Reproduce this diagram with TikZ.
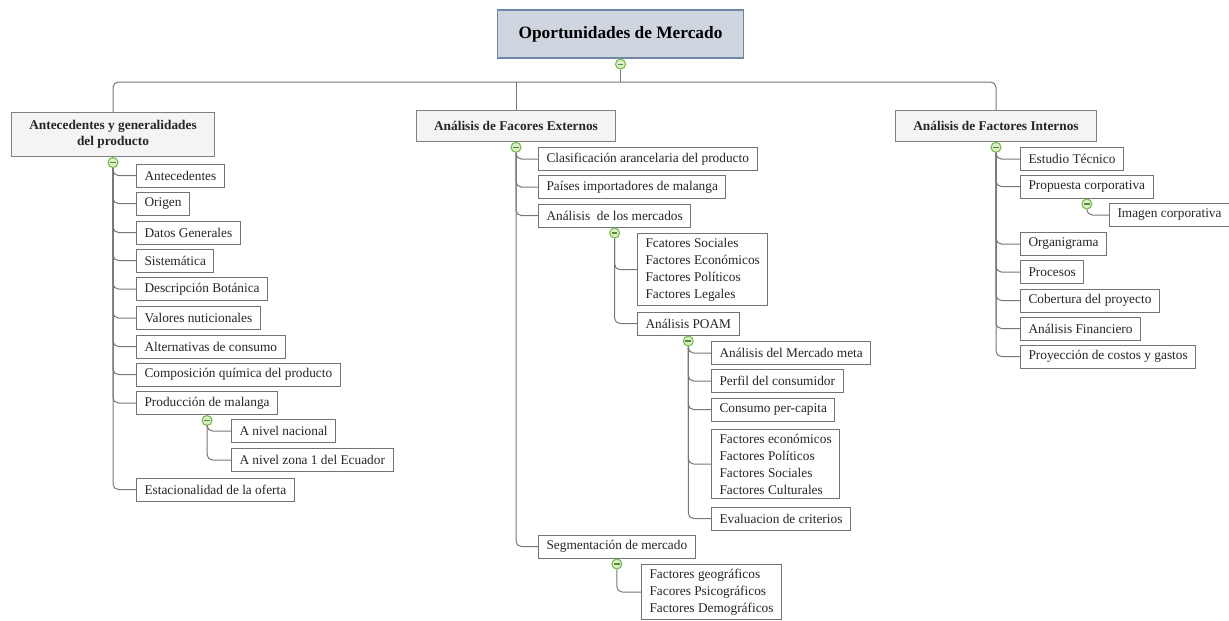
\documentclass[tikz,border=0pt]{standalone}
\usepackage{fontspec}
\setmainfont{Liberation Serif}
\usepackage{tikz}
\usepackage{xcolor}
\usetikzlibrary{positioning}
\definecolor{knobgreen}{RGB}{118,186,78}
\definecolor{knobfill}{RGB}{218,238,200}
\definecolor{linegray}{RGB}{118,118,118}
\definecolor{rootfill}{RGB}{207,213,223}
\definecolor{rootline}{RGB}{112,134,168}
\definecolor{topfill}{RGB}{244,244,244}
\tikzstyle{rootbox} = [rectangle, draw=rootline, fill=rootfill, line width=0.9pt, minimum width=185pt,
minimum height=36pt, font=\bfseries\fontsize{13}{15}\selectfont]
\tikzstyle{topbox} = [rectangle, draw=black!50, fill=topfill, line width=0.75pt, inner xsep=13.5pt,
inner ysep=6pt, minimum height=23.25pt, align=center, text=black!85, font=\bfseries\fontsize{10}{12}\selectfont]
\tikzstyle{leaf} = [rectangle, draw=black!55, fill=white, line width=0.75pt, inner xsep=6pt,
inner ysep=3.5pt, minimum height=17.25pt, anchor=west, align=left, text=black!85,
font=\fontsize{10}{12.75}\selectfont]
\tikzstyle{knob} = [circle, draw=knobgreen, fill=knobfill, line width=0.8pt, minimum size=7.5pt,
inner sep=0pt, path picture={\draw[knobgreen!75!black, line width=0.9pt]
([xshift=-2.1pt]path picture bounding box.center) -- ([xshift=2.1pt]path picture bounding box.center);}]
\tikzstyle{conn} = [draw=linegray, line width=0.75pt, rounded corners=4pt]

\begin{document}
\begin{tikzpicture}[x=0.75pt, y=-0.75pt]
            \useasboundingbox (0,0) rectangle (1229,621);

            % Main topic
            \node(root) [rootbox] at (620.5,34) {Oportunidades de Mercado};
            \node(rootknob) [knob, below=0pt of root] {};

            % Level one topics
            \node(ante) [topbox] at (113,134.5) {Antecedentes y generalidades\\del producto};
            \node(ext) [topbox] at (516,125.8) {Análisis de Facores Externos};
            \node(inte) [topbox] at (996,125.8) {Análisis de Factores Internos};
            \node(anteknob) [knob, below=0pt of ante] {};
            \node(extknob) [knob, below=0pt of ext] {};
            \node(inteknob) [knob, below=0pt of inte] {};

            % Draw bus lines
            \coordinate (bus) at (620.5,82);
            \draw[conn] (rootknob.south) -- (bus);
            \draw[conn] (bus) -| (ante.north);
            \draw[conn] (bus) -| (inte.north);
            \draw[conn] (bus -| ext.north) -- (ext.north);

            % Antecedentes sub topics
            \node(antec) [leaf] at (136,175.5) {Antecedentes};
            \node(origen) [leaf] at (136,203.5) {Origen};
            \node(datos) [leaf] at (136,232.5) {Datos Generales};
            \node(sistem) [leaf] at (136,260.5) {Sistemática};
            \node(descrip) [leaf] at (136,289) {Descripción Botánica};
            \node(valores) [leaf] at (136,318) {Valores nuticionales};
            \node(altern) [leaf] at (136,346.5) {Alternativas de consumo};
            \node(compos) [leaf] at (136,374.5) {Composición química del producto};
            \node(produc) [leaf] at (136,403) {Producción de malanga};
            \node(estac) [leaf] at (136,489.5) {Estacionalidad de la oferta};
            \node(producknob) [knob, below=0pt of produc] {};
            \node(nacional) [leaf] at (231,431) {A nivel nacional};
            \node(zona) [leaf] at (231,460) {A nivel zona 1 del Ecuador};

            % Draw Lines
            \draw[conn] (anteknob.south) |- (antec.west);
            \draw[conn] (anteknob.south) |- (origen.west);
            \draw[conn] (anteknob.south) |- (datos.west);
            \draw[conn] (anteknob.south) |- (sistem.west);
            \draw[conn] (anteknob.south) |- (descrip.west);
            \draw[conn] (anteknob.south) |- (valores.west);
            \draw[conn] (anteknob.south) |- (altern.west);
            \draw[conn] (anteknob.south) |- (compos.west);
            \draw[conn] (anteknob.south) |- (produc.west);
            \draw[conn] (anteknob.south) |- (estac.west);
            \draw[conn] (producknob.south) |- (nacional.west);
            \draw[conn] (producknob.south) |- (zona.west);

            % Externos sub topics
            \node(clasif) [leaf] at (538,159) {Clasificación arancelaria del producto};
            \node(paises) [leaf] at (538,187) {Países importadores de malanga};
            \node(mercados) [leaf] at (538,215.5) {Análisis\ \ de los mercados};
            \node(segment) [leaf] at (538,546.5) {Segmentación de mercado};
            \node(mercknob) [knob, below=0pt of mercados] {};
            \node(sociales) [leaf] at (637,269.7) {Fcatores Sociales\\Factores Económicos\\Factores Políticos\\Factores Legales};
            \node(poam) [leaf] at (637,323.5) {Análisis POAM};
            \node(poamknob) [knob, below=0pt of poam] {};
            \node(meta) [leaf] at (711,353) {Análisis del Mercado meta};
            \node(perfil) [leaf] at (711,381) {Perfil del consumidor};
            \node(consumo) [leaf] at (711,409.5) {Consumo per-capita};
            \node(economicos) [leaf] at (711,464) {Factores económicos\\Factores Políticos\\Factores Sociales\\Factores Culturales};
            \node(evalua) [leaf] at (711,518.5) {Evaluacion de criterios};
            \node(segknob) [knob, below=0pt of segment] {};
            \node(geo) [leaf] at (641,592) {Factores geográficos\\Facores Psicográficos\\Factores Demográficos};

            % Draw Lines
            \draw[conn] (extknob.south) |- (clasif.west);
            \draw[conn] (extknob.south) |- (paises.west);
            \draw[conn] (extknob.south) |- (mercados.west);
            \draw[conn] (extknob.south) |- (segment.west);
            \draw[conn] (mercknob.south) |- (sociales.west);
            \draw[conn] (mercknob.south) |- (poam.west);
            \draw[conn] (poamknob.south) |- (meta.west);
            \draw[conn] (poamknob.south) |- (perfil.west);
            \draw[conn] (poamknob.south) |- (consumo.west);
            \draw[conn] (poamknob.south) |- (economicos.west);
            \draw[conn] (poamknob.south) |- (evalua.west);
            \draw[conn] (segknob.south) |- (geo.west);

            % Internos sub topics
            \node(estudio) [leaf] at (1020,159) {Estudio Técnico};
            \node(propuesta) [leaf] at (1020,186.5) {Propuesta corporativa};
            \node(propknob) [knob, below=0pt of propuesta] {};
            \node(imagen) [leaf] at (1109,215) {Imagen corporativa};
            \node(organi) [leaf] at (1020,244) {Organigrama};
            \node(procesos) [leaf] at (1020,272) {Procesos};
            \node(cobertura) [leaf] at (1020,300.5) {Cobertura del proyecto};
            \node(financ) [leaf] at (1020,328.5) {Análisis Financiero};
            \node(proyecc) [leaf] at (1020,356.5) {Proyección de costos y gastos};

            % Draw Lines
            \draw[conn] (inteknob.south) |- (estudio.west);
            \draw[conn] (inteknob.south) |- (propuesta.west);
            \draw[conn] (inteknob.south) |- (organi.west);
            \draw[conn] (inteknob.south) |- (procesos.west);
            \draw[conn] (inteknob.south) |- (cobertura.west);
            \draw[conn] (inteknob.south) |- (financ.west);
            \draw[conn] (inteknob.south) |- (proyecc.west);
            \draw[conn] (propknob.south) |- (imagen.west);

\end{tikzpicture}
\end{document}
